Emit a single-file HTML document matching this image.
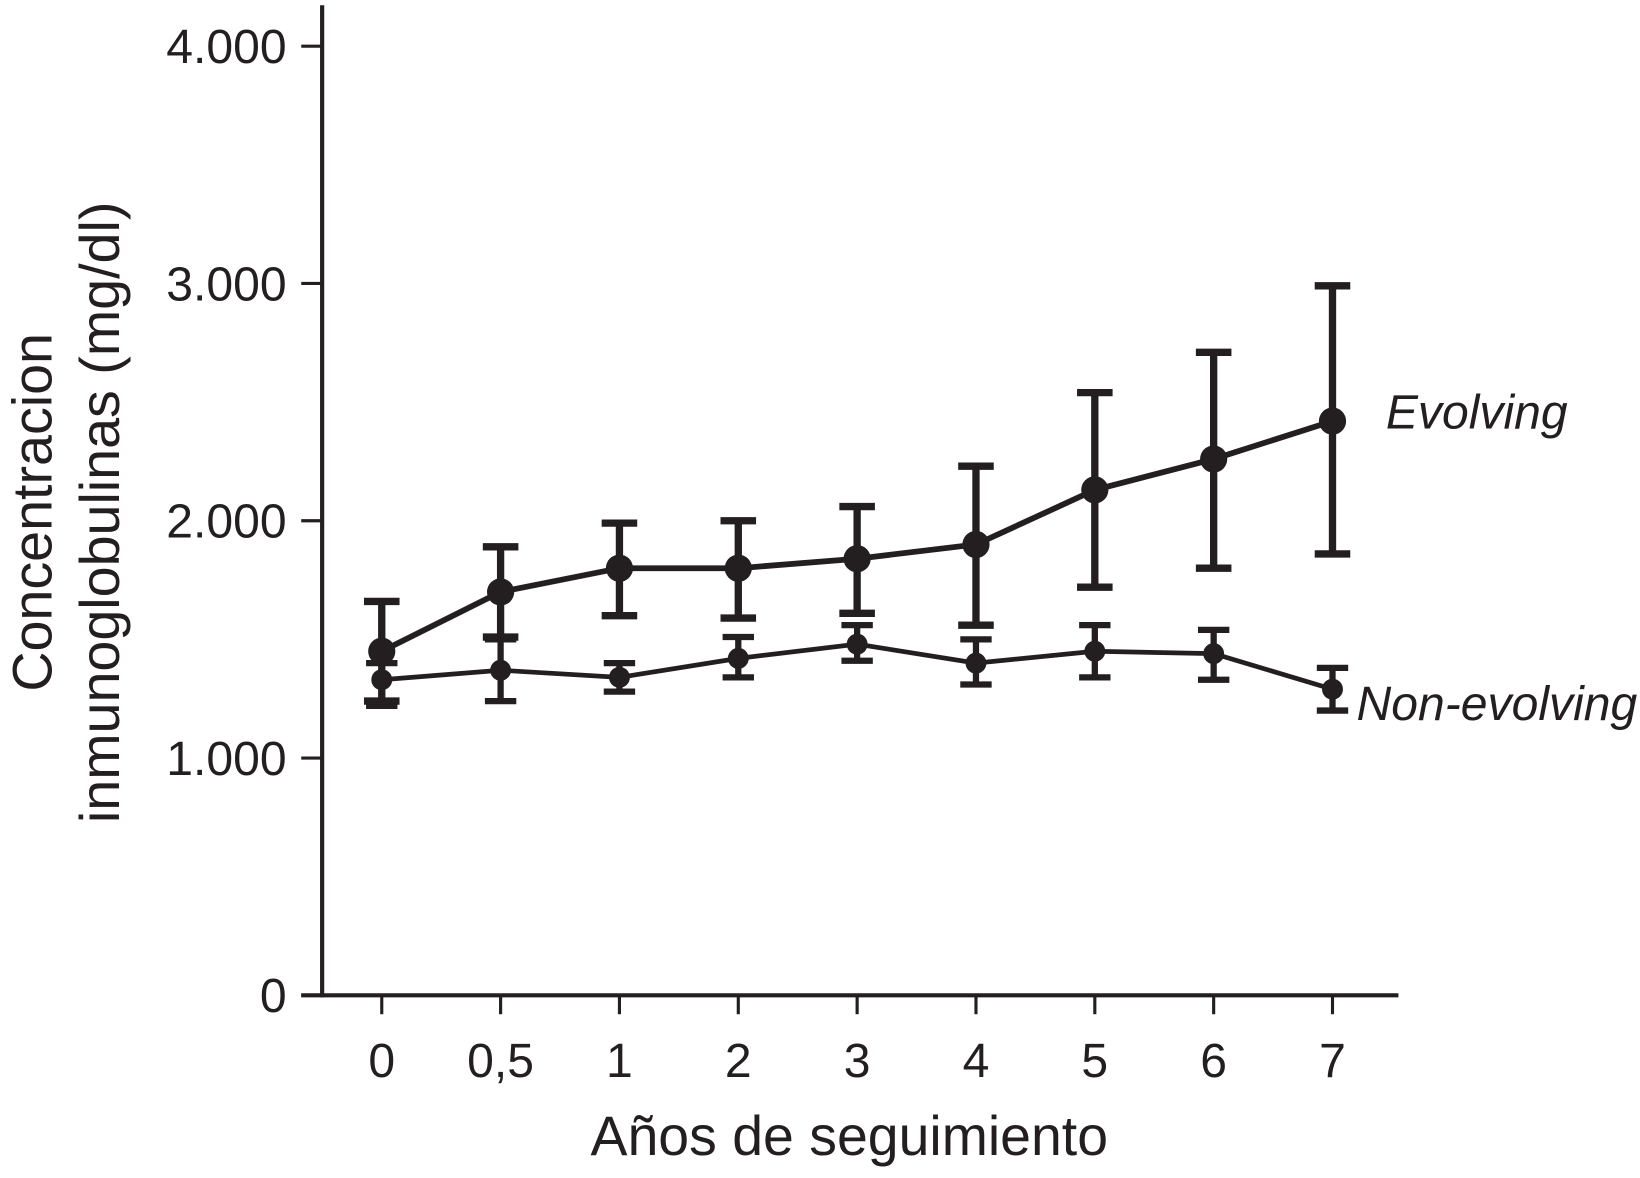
<!DOCTYPE html>
<html><head><meta charset="utf-8"><style>
html,body{margin:0;padding:0;background:#fff}
svg{display:block}
text{font-family:"Liberation Sans",sans-serif;fill:#231f20}
</style></head><body>
<svg id="chart" width="1640" height="1178" viewBox="0 0 1568 1122" preserveAspectRatio="none" xmlns="http://www.w3.org/2000/svg"></svg>
<script>
const categories=["0","0,5","1","2","3","4","5","6","7"];
const evolvingMean=[1450,1700,1800,1800,1840,1900,2130,2260,2420];
const evolvingUpper=[1660,1890,1990,2000,2060,2230,2540,2710,2990];
const evolvingLower=[1240,1510,1600,1590,1610,1560,1720,1800,1860];
const nonMean=[1330,1370,1340,1420,1480,1400,1450,1440,1290];
const nonUpper=[1400,1500,1400,1510,1560,1500,1560,1540,1380];
const nonLower=[1220,1240,1280,1340,1410,1310,1340,1330,1200];
const yTicks=[0,1000,2000,3000,4000];
const yTickLabels=["0","1.000","2.000","3.000","4.000"];

const svg=document.getElementById('chart');
const NS="http://www.w3.org/2000/svg";
const x0=365,x1=1274;
const xScale=i=>x0+i*(x1-x0)/(categories.length-1);
const yScale=v=>948-v*(948-44)/4000;
function el(tag,attrs,parent){const e=document.createElementNS(NS,tag);for(const k in attrs)e.setAttribute(k,attrs[k]);(parent||svg).appendChild(e);return e;}

const axes=el('g',{});


const ya=el('line',{x1:308,y1:5,x2:308,y2:950,stroke:'#231f20','stroke-width':4},axes);


const xa=el('line',{x1:288,y1:948,x2:1337,y2:948,stroke:'#231f20','stroke-width':4},axes);



yTicks.forEach((v,i)=>{
  const y=yScale(v);
  const t=el('line',{x1:288,y1:y,x2:308,y2:y,stroke:'#231f20','stroke-width':3},axes);
  
  
  const l=el('text',{x:274,y:y+16,'text-anchor':'end','font-size':46},axes);
  l.textContent=yTickLabels[i];
  
  
});
categories.forEach((c,i)=>{
  const x=xScale(i);
  const t=el('line',{x1:x,y1:948,x2:x,y2:966,stroke:'#231f20','stroke-width':3},axes);
  
  
  const l=el('text',{x:x,y:1026,'text-anchor':'middle','font-size':46},axes);
  l.textContent=c;
  
  
});

function series(mean,up,lo,name,lw,ew,r,cap){
  const g=el('g',{});
  
  
  const pts=mean.map((v,i)=>xScale(i)+','+yScale(v)).join(' ');
  const pl=el('polyline',{points:pts,fill:'none',stroke:'#231f20','stroke-width':lw},g);
  
  
  mean.forEach((v,i)=>{
    const x=xScale(i);
    const eb=el('path',{d:`M${x},${yScale(up[i])}V${yScale(lo[i])}M${x-cap},${yScale(up[i])}H${x+cap}M${x-cap},${yScale(lo[i])}H${x+cap}`,stroke:'#231f20','stroke-width':ew,fill:'none'},g);
    
    
    const p=el('circle',{cx:x,cy:yScale(v),r:r,fill:'#231f20'},g);
    
    
  });
}
series(nonMean,nonUpper,nonLower,'non-evolving',4.5,6,10,15);
series(evolvingMean,evolvingUpper,evolvingLower,'evolving',5.5,7,13,17);

const le=el('text',{x:1325,y:408,'font-size':46,'font-style':'italic'});
le.textContent='Evolving';


const ln=el('text',{x:1297,y:686,'font-size':46,'font-style':'italic'});
ln.textContent='Non-evolving';



const xt=el('text',{x:812,y:1100,'text-anchor':'middle','font-size':53});
xt.textContent='Años de seguimiento';


const yt=el('text',{transform:'translate(49,488) rotate(-90)','text-anchor':'middle','font-size':53});
yt.textContent='Concentracion';


const yt2=el('text',{transform:'translate(114,488) rotate(-90)','text-anchor':'middle','font-size':53});
yt2.textContent='inmunoglobulinas (mg/dl)';


</script>
</body></html>
